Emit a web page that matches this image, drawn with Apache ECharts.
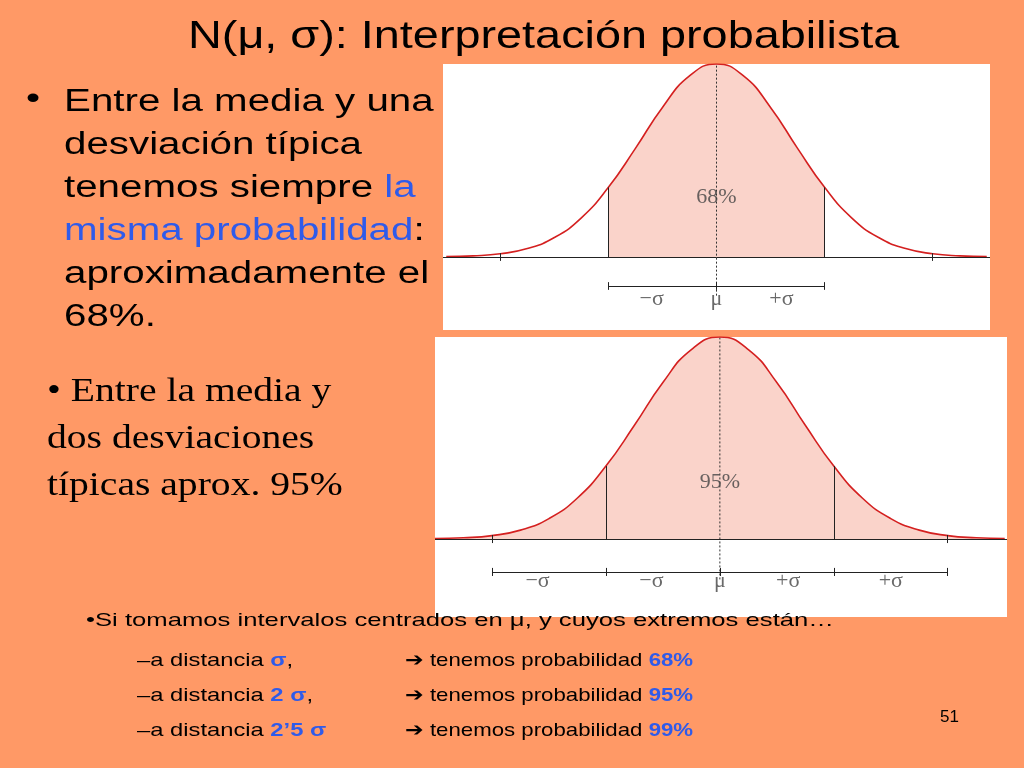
<!DOCTYPE html>
<html>
<head>
<meta charset="utf-8">
<script src="https://cdn.jsdelivr.net/npm/echarts@6/dist/echarts.min.js"></script>
<style>
  html, body { margin: 0; padding: 0; background: #FF9966; }
  #main { width: 1024px; height: 768px; }
</style>
</head>
<body>
<div id="main"></div>
<script>
// curva: x en sigmas (marcas), altura relativa al pico
var curveX = [-2.5, -2.25, -2, -1.75, -1.5, -1.25, -1, -0.75, -0.5, -0.25, 0, 0.25, 0.5, 0.75, 1, 1.25, 1.5, 1.75, 2, 2.25, 2.5];
var curveY = [0.002, 0.006, 0.017, 0.044, 0.101, 0.203, 0.361, 0.563, 0.775, 0.938, 1, 0.938, 0.775, 0.563, 0.361, 0.203, 0.101, 0.044, 0.017, 0.006, 0.002];
var axisTicks = [-2, 2];
var shadeTop = [-1, 1];        // 68%
var shadeBottom = [-2.5, 2.5]; // 95% (todo sombreado en el dibujo)
var labelsTop = [[-0.6, '−σ'], [0, 'μ'], [0.6, '+σ']];
var labelsBottom = [[-1.6, '−σ'], [-0.6, '−σ'], [0, 'μ'], [0.6, '+σ'], [1.5, '+σ']];
var bracketTop = [-1, 0, 1];
var bracketBottom = [-2, -1, 0, 1, 2];

function pts(a, b) {
  var out = [];
  for (var i = 0; i < curveX.length; i++) {
    if (curveX[i] >= a && curveX[i] <= b) out.push([curveX[i], curveY[i]]);
  }
  return out;
}
var full = pts(-9, 9);
var red = '#D42020';

function seriesFor(idx, xmin, xmax, shade, bracket, labels, pct, bY, lY, pctY) {
  var segs = [];
  // eje horizontal
  segs.push([{coord: [xmin, 0]}, {coord: [xmax, 0]}]);
  axisTicks.forEach(function (t) { segs.push([{coord: [t, -0.02]}, {coord: [t, 0.02]}]); });
  // lineas verticales en +-sigma
  [-1, 1].forEach(function (t) { segs.push([{coord: [t, 0]}, {coord: [t, curveY[curveX.indexOf(t)]]}]); });
  // corchete inferior
  segs.push([{coord: [bracket[0], bY]}, {coord: [bracket[bracket.length - 1], bY]}]);
  bracket.forEach(function (t) { segs.push([{coord: [t, bY - 0.02]}, {coord: [t, bY + 0.02]}]); });
  return [
    {
      type: 'line', xAxisIndex: idx, yAxisIndex: idx, data: pts(shade[0], shade[1]),
      smooth: true, symbol: 'none', lineStyle: {width: 0}, areaStyle: {color: '#FAD3CA', opacity: 1}, z: 1
    },
    {
      type: 'line', xAxisIndex: idx, yAxisIndex: idx, data: full, smooth: true, symbol: 'none',
      lineStyle: {color: red, width: 1.6}, z: 3,
      markLine: {
        silent: true, symbol: 'none', label: {show: false},
        lineStyle: {color: '#222', width: 1, type: 'solid'}, data: segs
      }
    },
    {
      type: 'line', xAxisIndex: idx, yAxisIndex: idx, data: [[0, -0.2], [0, 1]], symbol: 'none',
      lineStyle: {color: '#333', width: 1, type: [2, 2]}, z: 2
    },
    {
      type: 'scatter', xAxisIndex: idx, yAxisIndex: idx, symbolSize: 0,
      data: labels.map(function (l) { return {value: [l[0], lY], name: l[1]}; }).concat([{value: [0, pctY], name: pct}]),
      label: {show: true, position: 'inside', formatter: '{b}', fontFamily: 'Liberation Serif', fontSize: 22, color: '#444'}
    }
  ];
}

var chart = echarts.init(document.getElementById('main'));
var serif = 'Liberation Serif', sans = 'Liberation Sans';
var blue = '#2F5BEA';

function txt(x, y, sx, style) {
  style.fill = style.fill || '#000';
  return {type: 'text', x: x, y: y, scaleX: sx, style: style};
}

var option = {
  backgroundColor: '#FF9966',
  animation: false,
  grid: [
    {left: 443, width: 547, top: 64, height: 266, show: true, backgroundColor: '#fff', borderWidth: 0},
    {left: 435, width: 572, top: 337, height: 280, show: true, backgroundColor: '#fff', borderWidth: 0}
  ],
  xAxis: [
    {type: 'value', gridIndex: 0, min: -2.53, max: 2.53, show: false},
    {type: 'value', gridIndex: 1, min: -2.5, max: 2.52, show: false}
  ],
  yAxis: [
    {type: 'value', gridIndex: 0, min: -0.378, max: 1, show: false},
    {type: 'value', gridIndex: 1, min: -0.386, max: 1, show: false}
  ],
  series: [].concat(
    seriesFor(0, -2.53, 2.53, shadeTop, bracketTop, labelsTop, '68%', -0.15, -0.22, 0.31),
    seriesFor(1, -2.5, 2.52, shadeBottom, bracketBottom, labelsBottom, '95%', -0.163, -0.21, 0.28)
  ),
  graphic: [
    txt(188, 18, 1.2, {text: 'N(μ, σ): Interpretación probabilista', font: '39px ' + sans}),
    txt(26, 84, 1.3, {text: '•', font: '31px ' + sans}),
    txt(64, 81, 1.3, {
      text: 'Entre la media y una\ndesviación típica\ntenemos siempre {b|la}\n{b|misma probabilidad}:\naproximadamente el\n68%.',
      font: '31px ' + sans, lineHeight: 43,
      rich: {b: {fill: blue, fontSize: 31, fontFamily: sans, lineHeight: 43}}
    }),
    txt(47, 369, 1.2, {
      text: '• Entre la media y\ndos desviaciones\ntípicas aprox. 95%', font: '33px ' + serif, lineHeight: 47
    }),
    txt(86, 611, 1.35, {text: '•Si tomamos intervalos centrados en μ, y cuyos extremos están…', font: '19px ' + sans}),
    txt(137, 643, 1.25, {
      text: '–a distancia {b|σ},\n–a distancia {b|2 σ},\n–a distancia {b|2’5 σ}',
      font: '19px ' + sans, lineHeight: 35,
      rich: {b: {fill: blue, fontWeight: 'bold', fontSize: 19, fontFamily: sans, lineHeight: 35}}
    }),
    txt(405, 643, 1.17, {
      text: '➔ tenemos probabilidad {b|68%}\n➔ tenemos probabilidad {b|95%}\n➔ tenemos probabilidad {b|99%}',
      font: '19px ' + sans, lineHeight: 35,
      rich: {b: {fill: blue, fontWeight: 'bold', fontSize: 19, fontFamily: sans, lineHeight: 35}}
    }),
    txt(940, 709, 1, {text: '51', font: '17px ' + sans})
  ]
};
chart.setOption(option);
</script>
</body>
</html>
